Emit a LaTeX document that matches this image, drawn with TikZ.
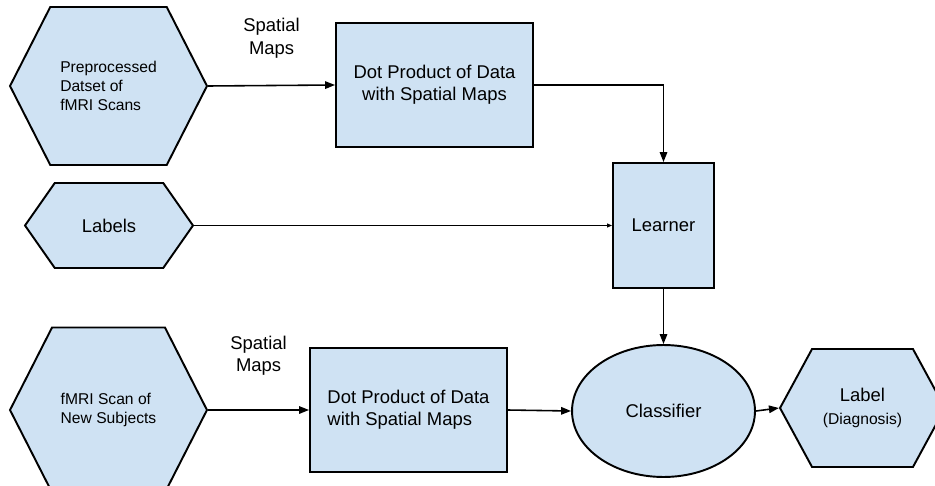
\documentclass[tikz,border=0pt]{standalone}
\usepackage{fontspec}
\setmainfont{Liberation Sans}
\usepackage{xcolor}
\usetikzlibrary{shapes.geometric,shapes.symbols,arrows.meta}
\definecolor{boxblue}{HTML}{CFE2F3}

\begin{document}
\begin{tikzpicture}[x=0.02cm,y=-0.02cm,
    every node/.style={font=\fontsize{10.5}{12.6}\selectfont},
    small/.style={font=\fontsize{8.9}{10.6}\selectfont},
    hexa/.style={signal, signal to=west and east, draw=black, fill=boxblue, line width=1.1pt, inner sep=0pt},
    blok/.style={rectangle, draw=black, fill=boxblue, line width=1.1pt, minimum width=3.94cm, minimum height=2.48cm, inner sep=0pt},
    flow/.style={-{Triangle[length=2mm,width=1.5mm]}, line width=0.9pt},
    thin flow/.style={-{Triangle[length=1mm,width=0.8mm]}, line width=0.5pt}]

    \useasboundingbox (0,0) rectangle (935,486);
    \clip (0,0) rectangle (935,486);

    % inputs on the left
    \node[hexa, signal pointer angle=126, minimum width=3.94cm, minimum height=3.16cm, small, align=left] (prep) at (108.5,86) {Preprocessed\\Datset of\\fMRI Scans};
    \node[hexa, signal pointer angle=110, minimum width=3.36cm, minimum height=1.7cm] (labels) at (109,225.5) {Labels};
    \node[hexa, signal pointer angle=126, minimum width=3.94cm, minimum height=3.3cm, small, align=left] (newscan) at (108.5,410) {fMRI Scan of\\New Subjects};

    % processing boxes
    \node[blok, align=center] (dot1) at (434.5,85) {Dot Product of Data\\with Spatial Maps};
    \node[blok, align=left] (dot2) at (408.5,410) {Dot Product of Data\\with Spatial Maps};
    \node[blok, minimum width=2.02cm, minimum height=2.5cm] (learner) at (663.5,225.5) {Learner};
    \node[ellipse, draw=black, fill=boxblue, line width=1.1pt, minimum width=3.66cm, minimum height=2.64cm] (classifier) at (663.5,411) {Classifier};
    \node[hexa, signal pointer angle=123, minimum width=3.3cm, minimum height=2.36cm, align=center] (diag) at (862.5,408) {Label\\{\small\fontsize{8.9}{10.6}\selectfont(Diagnosis)}};

    % connectors
    \draw[flow] (prep.east) -- (dot1.west) node[midway, above=0.42cm, align=center] {Spatial\\Maps};
    \draw[flow] (dot1.east) -| (learner.north);
    \draw[thin flow] (labels.east) -- (learner.west);
    \draw[flow] (learner.south) -- (classifier.north);
    \draw[flow] (newscan.east) -- (dot2.west) node[midway, above=0.56cm, align=center] {Spatial\\Maps};
    \draw[flow] (dot2.east) -- (classifier.west);
    \draw[flow] (classifier.east) -- (diag.west);

\end{tikzpicture}
\end{document}
